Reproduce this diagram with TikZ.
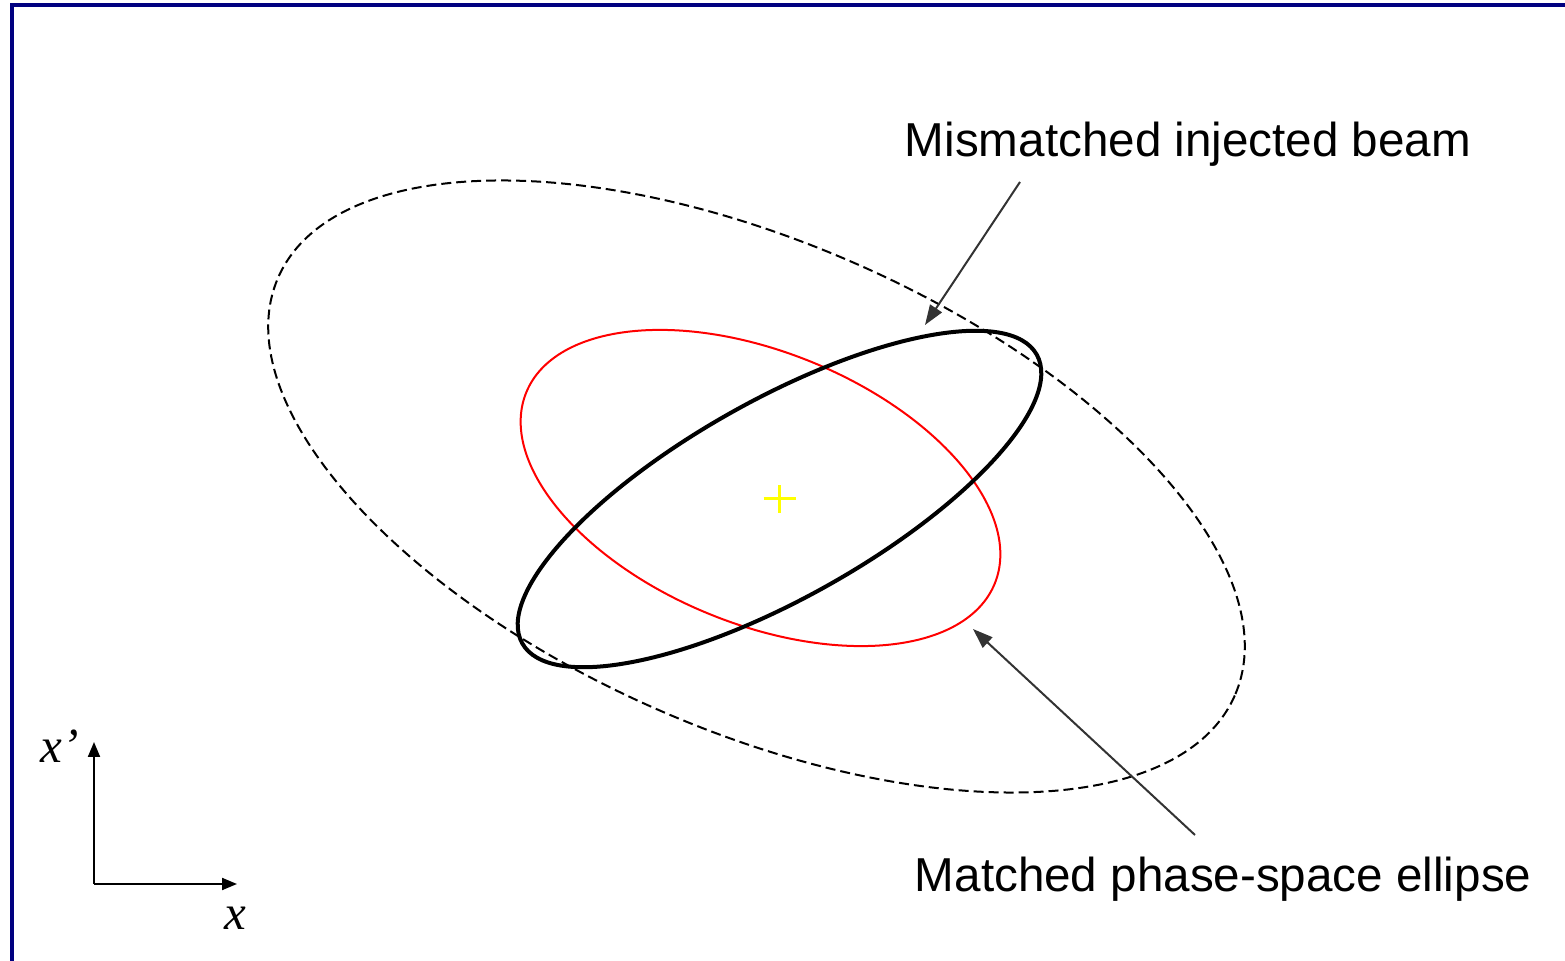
\documentclass[tikz,border=0pt]{standalone}
\usepackage{fontspec}
\setmainfont{Liberation Sans}
\newfontfamily\axisfont{Liberation Serif}
\usepackage{xcolor}
\definecolor{frameblue}{HTML}{000080}
\definecolor{pointergray}{HTML}{333333}
\definecolor{crossyellow}{HTML}{FFFF00}
\usetikzlibrary{arrows.meta}

\begin{document}
\begin{tikzpicture}[
  x=0.5pt, y=-0.5pt,
  label/.style={font=\fontsize{23.8}{28}\selectfont, inner sep=0pt, anchor=base west},
  axlabel/.style={font=\axisfont\itshape\fontsize{24.5}{28}\selectfont, inner sep=0pt, anchor=base west},
  pointer/.style={-{Triangle[length=10pt,width=7pt]}, line width=1pt, color=pointergray},
  axisarr/.style={-{Triangle[length=7.5pt,width=6pt]}, line width=1pt},
  acceptance/.style={dash pattern=on 5pt off 2.5pt, line width=1pt},
  matched/.style={red, line width=1pt},
  beam/.style={black, line width=2pt}
]
  \useasboundingbox (0,0) rectangle (1565,961);
  \draw[frameblue, line width=2pt] (11.5,961) -- (11.5,5.5) -- (1565,5.5);

  % ellipses
  \draw[acceptance, shift={(756.5,486.5)}, rotate=-23.6] (0,0) ellipse [x radius=522, y radius=244];
  \draw[matched, shift={(760.5,488)}, rotate=-22.2] (0,0) ellipse [x radius=253, y radius=136];
  \draw[beam, shift={(779.5,499)}, rotate=29.3] (0,0) ellipse [x radius=295, y radius=99];

  % centre mark
  \coordinate (centre) at (779.5,499);
  \draw[crossyellow, line width=1.5pt] ([xshift=-8pt]centre) -- ([xshift=8pt]centre)
    ([yshift=-7pt]centre) -- ([yshift=7pt]centre);

  % labels and pointers
  \node[label] (mislabel) at (904.5,157) {Mismatched injected beam};
  \node[label] (matlabel) at (914.5,892) {Matched phase-space ellipse};
  \coordinate (mistail) at (1020,182);
  \coordinate (mistip) at (925,325);
  \coordinate (mattail) at (1195,835);
  \coordinate (mattip) at (973,629);
  \draw[pointer] (mistail) -- (mistip);
  \draw[pointer] (mattail) -- (mattip);

  % axes
  \coordinate (origin) at (94,884);
  \coordinate (xend) at (237,884);
  \coordinate (xpend) at (94,742);
  \draw[axisarr] (origin) -- (xend);
  \draw[axisarr] (origin) -- (xpend);
  \node[axlabel] (xlabel) at (224,930) {x};
  \node[axlabel] (xplabel) at (40,763) {x’};
\end{tikzpicture}
\end{document}
